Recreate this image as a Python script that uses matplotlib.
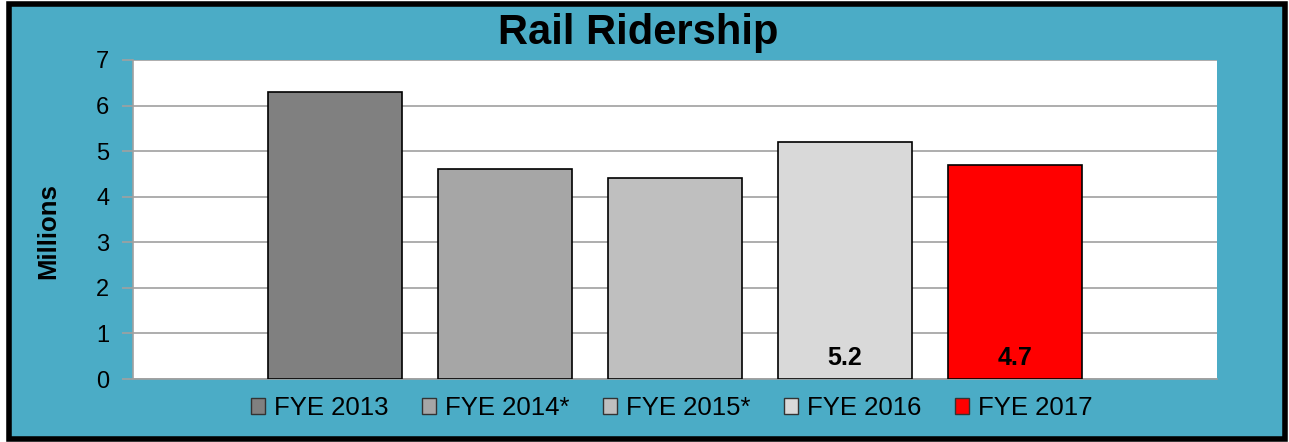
import matplotlib
matplotlib.use("Agg")
import matplotlib.pyplot as plt
from matplotlib.patches import Rectangle, Patch

series = ["FYE 2013", "FYE 2014*", "FYE 2015*", "FYE 2016", "FYE 2017"]
values = [6.3, 4.6, 4.4, 5.2, 4.7]
labels = [None, None, None, "5.2", "4.7"]
colors = ["#808080", "#A6A6A6", "#BFBFBF", "#D9D9D9", "#FF0000"]
yticks = [0, 1, 2, 3, 4, 5, 6, 7]

plt.rcParams['font.family'] = ['Liberation Sans', 'DejaVu Sans']

W, H = 1289, 442
fig = plt.figure(figsize=(W / 100, H / 100), dpi=100)
fig.patch.set_facecolor("white")
# teal background with black frame
fig.patches.append(Rectangle((9 / W, 1 - 439 / H), (1285 - 9) / W, (439 - 4) / H,
                             transform=fig.transFigure, facecolor="#4BACC6",
                             edgecolor="black", linewidth=4, zorder=-10))

ax = fig.add_axes([133 / W, 1 - 379 / H, (1217 - 133) / W, (379 - 60) / H])
ax.set_zorder(5)
ax.set_facecolor("white")
x = list(range(len(series)))
bars = ax.bar(x, values, width=0.79, color=colors, edgecolor="black", linewidth=1.2, zorder=3)
for xi, lab in zip(x, labels):
    if lab:
        ax.text(xi, 0.31, lab, ha="center", va="baseline", fontsize=18, fontweight="bold", zorder=4)

ax.set_xlim(-1.19, 5.19)
ax.set_ylim(0, 7)
ax.set_yticks(yticks)
ax.set_yticklabels([str(t) for t in yticks], fontsize=17)
ax.set_xticks([])
ax.yaxis.grid(True, color="#A0A0A0", linewidth=1.2, zorder=0)
for s in ["top", "right"]:
    ax.spines[s].set_visible(False)
for s in ["left", "bottom"]:
    ax.spines[s].set_color("#A0A0A0")
    ax.spines[s].set_linewidth(1.2)
ax.tick_params(axis="y", length=8, color="#A0A0A0", width=1.2, pad=9)
ax.set_ylabel("Millions", fontsize=18.5, fontweight="bold")
ax.yaxis.set_label_coords(-(133 - 60) / (1217 - 133), (379 - 231) / (379 - 60))

fig.text(638 / W, 1 - 33 / H, "Rail Ridership", ha="center", va="center",
         fontsize=30, fontweight="bold")

handles = [Patch(facecolor=c, edgecolor="#333333", linewidth=1.0) for c in colors]
fig.legend(handles, series, loc="center", bbox_to_anchor=(672 / W, 1 - 408 / H),
           ncol=5, frameon=False, fontsize=18.5, handlelength=0.55, handleheight=0.55,
           handletextpad=0.35, columnspacing=1.3)

fig.savefig("out.png", dpi=100)
